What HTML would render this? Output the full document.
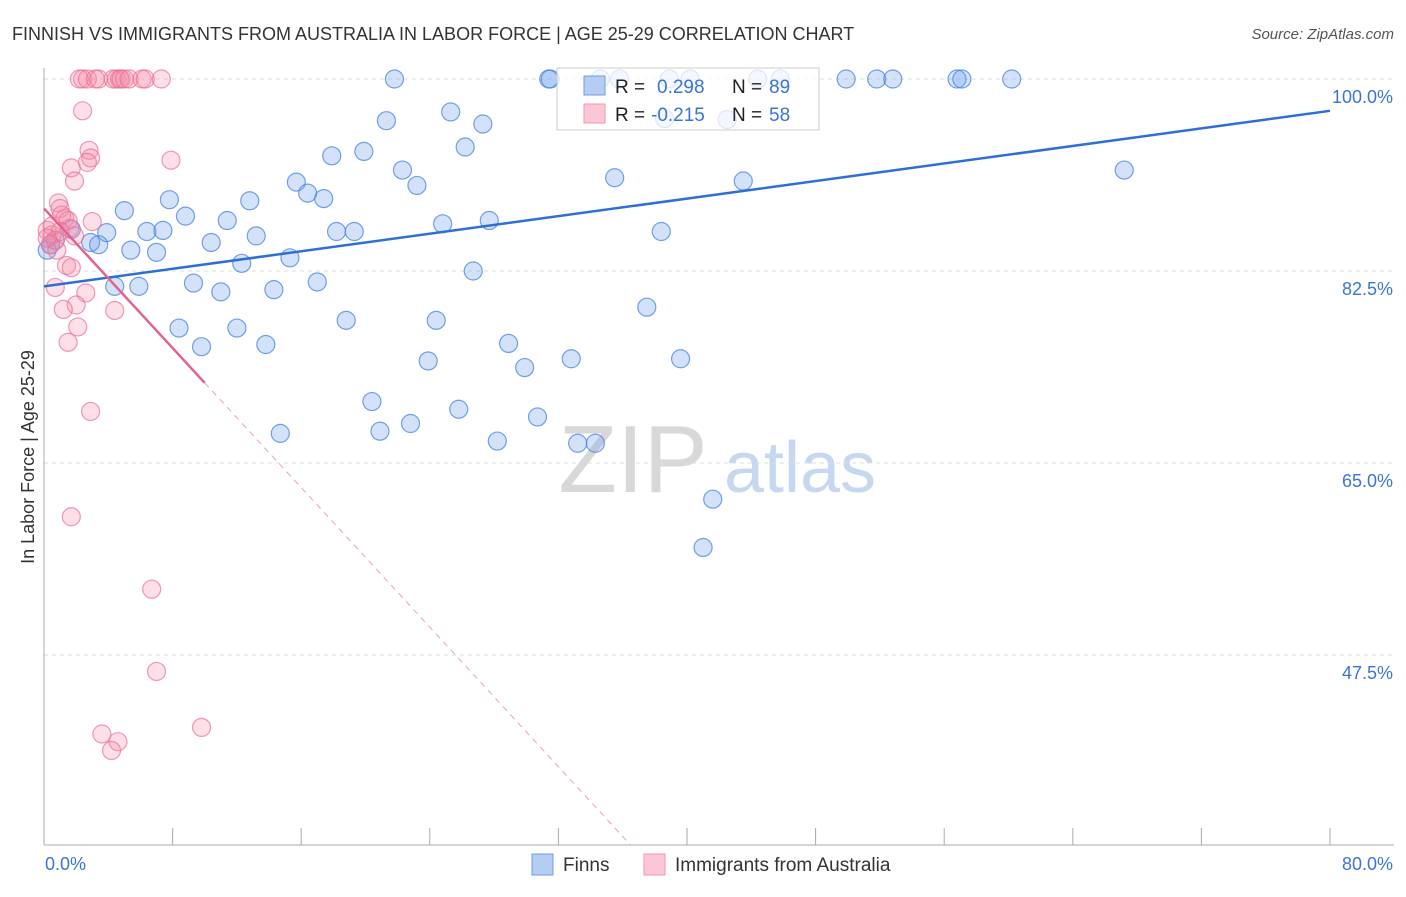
<!DOCTYPE html>
<html><head><meta charset="utf-8"><style>
body{margin:0;background:#fff;font-family:"Liberation Sans",sans-serif;}
svg text{font-family:"Liberation Sans",sans-serif;}
</style></head><body>
<svg id="chart" width="1406" height="892">
<text x="12" y="40" font-size="18" fill="#333">FINNISH VS IMMIGRANTS FROM AUSTRALIA IN LABOR FORCE | AGE 25-29 CORRELATION CHART</text>
<text x="1394" y="39" font-size="15" fill="#555" text-anchor="end" font-style="italic">Source: ZipAtlas.com</text>
<text transform="translate(34,457) rotate(-90)" font-size="18" fill="#333" text-anchor="middle">In Labor Force | Age 25-29</text>
<g><text x="633" y="492" font-size="96" fill="#d8d8d8" font-family="Liberation Serif" text-anchor="middle">ZIP</text><text x="800" y="492" font-size="72" fill="#c5d8f0" text-anchor="middle">atlas</text></g>
<g id="grid"></g><g id="axes"></g><g id="marks"></g><g id="lines"></g>
<g>
<rect x="557" y="68" width="262" height="62" fill="rgba(255,255,255,0.75)" stroke="#ccc"/>
<rect x="584" y="76" width="21" height="19" fill="#b5cdf2" stroke="#6f9de0"/>
<rect x="584" y="104" width="21" height="19" fill="#fcc6d4" stroke="#ef9ab2"/>
<text x="615" y="93" font-size="19" fill="#222">R = </text><text x="657" y="93" font-size="19" fill="#3b74d4">0.298</text>
<text x="732" y="93" font-size="19" fill="#222">N = </text><text x="769" y="93" font-size="19" fill="#3b74d4">89</text>
<text x="615" y="121" font-size="19" fill="#222">R = </text><text x="651" y="121" font-size="19" fill="#3b74d4">-0.215</text>
<text x="732" y="121" font-size="19" fill="#222">N = </text><text x="769" y="121" font-size="19" fill="#3b74d4">58</text>
</g>
<g>
<rect x="532" y="854" width="21" height="21" fill="#b5cdf2" stroke="#6f9de0"/>
<text x="563" y="871" font-size="19" fill="#333">Finns</text>
<rect x="644" y="854" width="21" height="21" fill="#fcc6d4" stroke="#ef9ab2"/>
<text x="675" y="871" font-size="19" fill="#333">Immigrants from Australia</text>
</g>
</svg>
<script>
const yTicks=[100,82.5,65,47.5];
const yTickLabels=["100.0%","82.5%","65.0%","47.5%"];
const xTicks=[0,8,16,24,32,40,48,56,64,72,80];
const finnsX=[31.5,31.4,21.8,38.9,44.4,49.9,51.8,52.8,56.8,57.1,60.2,35.8,34.6,40.2,45.8,25.3,21.3,27.3,38.6,42.5,26.2,19.9,17.9,22.3,15.7,23.2,16.4,35.5,43.5,67.2,7.8,12.8,17.4,5.0,8.8,11.4,24.8,27.7,6.4,7.4,18.2,19.3,13.2,10.4,38.4,1.7,3.9,2.9,3.4,5.4,7.0,15.3,12.3,26.7,9.3,11.0,14.3,17.0,4.4,5.9,37.5,18.8,24.4,8.4,12.0,9.8,13.8,28.9,23.9,32.8,39.6,29.9,20.4,25.8,22.8,20.9,30.7,14.7,28.2,33.2,34.3,41.6,41.0,0.4,0.7,0.2];
const finnsY=[100,100,100,100,100,100,100,100,100,100,100,100,100,100,100,97.0,96.2,95.9,96.4,96.3,93.8,93.4,93.0,91.7,90.6,90.3,89.6,91.0,90.7,91.7,89.0,88.9,89.1,88.0,87.5,87.1,86.8,87.1,86.1,86.2,86.1,86.1,85.7,85.1,86.1,86.3,86.0,85.1,84.9,84.4,84.2,83.7,83.2,82.5,81.4,80.6,80.8,81.5,81.1,81.1,79.2,78.0,78.0,77.3,77.3,75.6,75.8,75.9,74.3,74.5,74.5,73.7,70.6,69.9,68.6,67.9,69.2,67.7,67.0,66.8,66.8,61.7,57.3,84.9,85.3,84.4];
const ausX=[2.2,2.4,2.7,3.2,3.4,4.3,4.5,4.7,4.8,5.0,5.3,6.1,6.3,7.3,2.4,2.8,2.9,2.7,1.7,1.9,7.9,0.9,1.0,1.3,1.5,3.0,1.6,0.2,0.5,0.7,0.4,1.0,0.8,1.9,1.4,1.7,0.7,2.6,2.0,1.2,4.4,2.1,1.5,2.9,1.7,6.7,7.0,9.8,3.6,4.6,4.2,0.5,1.1,0.2];
const ausY=[100,100,100,100,100,100,100,100,100,100,100,100,100,100,97.1,93.5,92.8,92.4,91.9,90.7,92.6,88.7,88.2,87.3,87.1,87.0,86.4,86.2,85.8,85.3,84.9,86.1,84.4,85.7,83.0,82.8,81.0,80.5,79.4,79.0,78.9,77.4,76.0,69.7,60.1,53.5,46.0,40.9,40.3,39.6,38.8,86.6,87.6,85.5];
const finnsTrend=[81.1,97.1];
const ausTrend=[88.2,72.3];
const NS="http://www.w3.org/2000/svg";
const X0=44,X1=1330,Y100=79,Y475=655,YB=845;
function sx(v){return X0+(v/80)*(X1-X0);}
function sy(v){return Y100+(100-v)/(100-47.5)*(Y475-Y100);}
const yMin=100-(YB-Y100)/(Y475-Y100)*52.5;
function mk(tag,attrs,parent){const e=document.createElementNS(NS,tag);for(const k in attrs)e.setAttribute(k,attrs[k]);parent.appendChild(e);return e;}
const grid=document.getElementById('grid'),axes=document.getElementById('axes'),marks=document.getElementById('marks'),lines=document.getElementById('lines');
yTicks.forEach((t,i)=>{
 const l=mk('line',{x1:X0,x2:1394,y1:sy(t),y2:sy(t),stroke:'#ddd','stroke-dasharray':'4,4'},grid);
 
 
 const tx=mk('text',{x:1393,y:sy(t)+24,'font-size':18,fill:'#3b74d4','text-anchor':'end'},axes);
 tx.textContent=yTickLabels[i];
 
 
});
let a=mk('line',{x1:X0,x2:X0,y1:68,y2:YB,stroke:'#aaa'},axes);


a=mk('line',{x1:X0,x2:1394,y1:YB,y2:YB,stroke:'#aaa'},axes);


xTicks.forEach(t=>{const l=mk('line',{x1:sx(t),x2:sx(t),y1:828,y2:YB,stroke:'#aaa'},axes);
 
 });
let t=mk('text',{x:45,y:870,'font-size':18,fill:'#3b74d4'},axes);t.textContent='0.0%';


t=mk('text',{x:1393,y:870,'font-size':18,fill:'#3b74d4','text-anchor':'end'},axes);t.textContent='80.0%';


finnsX.forEach((x,i)=>{const c=mk('circle',{cx:sx(x),cy:sy(finnsY[i]),r:9,fill:'rgba(110,160,235,0.3)',stroke:'rgba(70,130,225,0.75)','stroke-width':1.2},marks);
 
 });
ausX.forEach((x,i)=>{const c=mk('circle',{cx:sx(x),cy:sy(ausY[i]),r:9,fill:'rgba(245,140,170,0.28)',stroke:'rgba(235,110,150,0.7)','stroke-width':1.2},marks);
 
 });
let L=mk('line',{x1:sx(0),y1:sy(finnsTrend[0]),x2:sx(80),y2:sy(finnsTrend[1]),stroke:'#2e6fd6','stroke-width':2.5},lines);


const slope=(ausTrend[1]-ausTrend[0])/10;
L=mk('line',{x1:sx(0),y1:sy(ausTrend[0]),x2:sx(10),y2:sy(ausTrend[1]),stroke:'#e5628c','stroke-width':2.5},lines);


const xEnd=(yMin-ausTrend[0])/slope;
L=mk('line',{x1:sx(10),y1:sy(ausTrend[1]),x2:sx(xEnd),y2:sy(yMin),stroke:'#eaa0b8','stroke-width':1,'stroke-dasharray':'6,5'},lines);


</script>
</body></html>
